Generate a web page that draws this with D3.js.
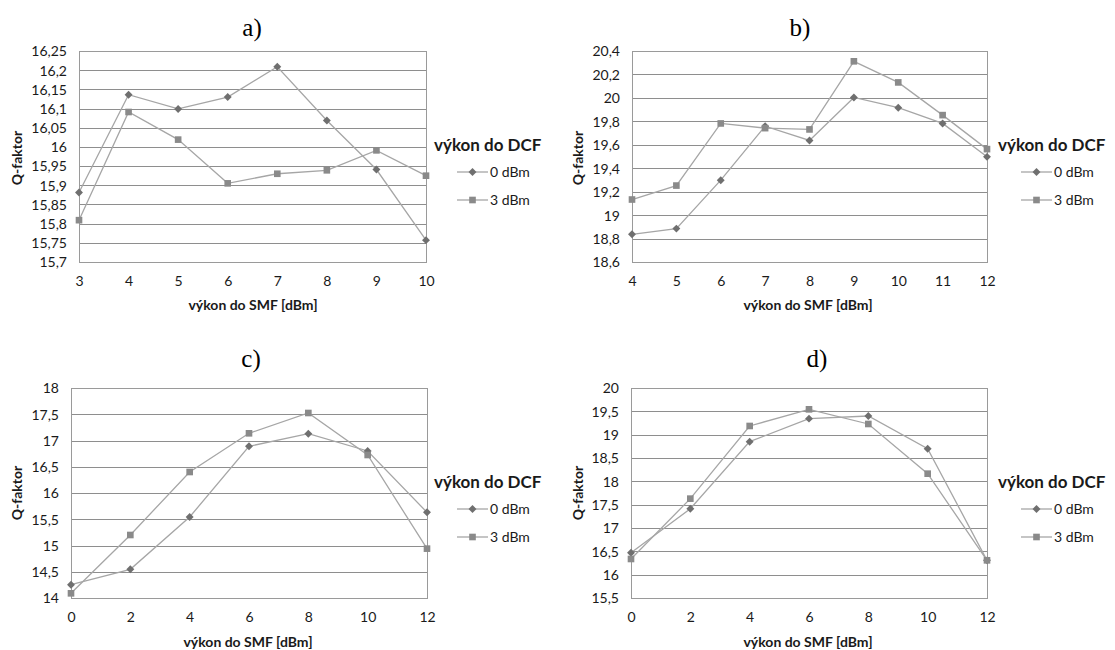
<!DOCTYPE html>
<html>
<head>
<meta charset="utf-8">
<script src="https://cdn.jsdelivr.net/npm/d3@7"></script>
<style>
  body { margin: 0; background: #fff; }
  svg { display: block; }
  .tick text { font-family: Lato, "Open Sans", sans-serif; font-size: 14px; fill: #1a1a1a; }
  .title { font-family: "Liberation Serif", "DejaVu Serif", serif; font-size: 25px; fill: #000; }
  .axtitle { font-family: Lato, "Open Sans", sans-serif; font-size: 14px; font-weight: bold; fill: #1a1a1a; }
  .legtitle { font-family: Lato, "Open Sans", sans-serif; font-size: 17px; font-weight: bold; fill: #1a1a1a; }
  .legtext { font-family: Lato, "Open Sans", sans-serif; font-size: 14px; fill: #1a1a1a; }
</style>
</head>
<body>
<div id="chart"></div>
<script>
// ----- data -----
var seriesNames = ["0 dBm", "3 dBm"];

var xA = [3, 4, 5, 6, 7, 8, 9, 10];
var a0 = [15.881, 16.136, 16.099, 16.130, 16.209, 16.069, 15.941, 15.757];
var a3 = [15.809, 16.091, 16.019, 15.905, 15.930, 15.939, 15.991, 15.925];
var yTicksA = [15.7, 15.75, 15.8, 15.85, 15.9, 15.95, 16, 16.05, 16.1, 16.15, 16.2, 16.25];

var xB = [4, 5, 6, 7, 8, 9, 10, 11, 12];
var b0 = [18.836, 18.885, 19.298, 19.759, 19.637, 20.004, 19.916, 19.782, 19.497];
var b3 = [19.133, 19.252, 19.782, 19.742, 19.731, 20.312, 20.132, 19.853, 19.563];
var yTicksB = [18.6, 18.8, 19, 19.2, 19.4, 19.6, 19.8, 20, 20.2, 20.4];

var xC = [0, 2, 4, 6, 8, 10, 12];
var c0 = [14.254, 14.546, 15.543, 16.889, 17.130, 16.800, 15.632];
var c3 = [14.089, 15.200, 16.400, 17.137, 17.524, 16.724, 14.940];
var yTicksC = [14, 14.5, 15, 15.5, 16, 16.5, 17, 17.5, 18];

var xD = [0, 2, 4, 6, 8, 10, 12];
var d0 = [16.471, 17.414, 18.850, 19.343, 19.400, 18.700, 16.307];
var d3v = [16.336, 17.629, 19.186, 19.543, 19.229, 18.164, 16.307];
var yTicksD = [15.5, 16, 16.5, 17, 17.5, 18, 18.5, 19, 19.5, 20];

var panelLabels = ["a)", "b)", "c)", "d)"];
var xLabel = "výkon do SMF [dBm]";
var yLabel = "Q-faktor";
var legendTitle = "výkon do DCF";

// ----- layout -----
var width = 1115, height = 650;
var panels = [
  { x: xA, s: [a0, a3], yt: yTicksA, l: 79, r: 426, t: 51, b: 262, tx: 252, ty: 36, lx: 434, ly: 145, qx: 17, qy: 158, xl: 253, xly: 310 },
  { x: xB, s: [b0, b3], yt: yTicksB, l: 632, r: 987, t: 51, b: 262, tx: 800, ty: 36, lx: 998, ly: 145, qx: 578, qy: 158, xl: 808, xly: 310 },
  { x: xC, s: [c0, c3], yt: yTicksC, l: 71, r: 427, t: 388, b: 598, tx: 251, ty: 367, lx: 434, ly: 482, qx: 17, qy: 493, xl: 248, xly: 647 },
  { x: xD, s: [d0, d3v], yt: yTicksD, l: 631, r: 987, t: 388, b: 598, tx: 817, ty: 367, lx: 998, ly: 482, qx: 578, qy: 493, xl: 808, xly: 647 }
];

var lineColor = "#a6a6a6";
var markerColor = ["#6f6f6f", "#8a8a8a"];
var markerShape = [d3.symbol().type(d3.symbolDiamond2).size(40), d3.symbol().type(d3.symbolSquare).size(44)];

var svg = d3.select("#chart").append("svg")
  .attr("width", width)
  .attr("height", height);

panels.forEach(function(p, i) {
  var g = svg.append("g");
  var x = d3.scaleLinear().domain(d3.extent(p.x)).range([p.l, p.r]);
  var y = d3.scaleLinear().domain(d3.extent(p.yt)).range([p.b, p.t]);

  // gridlines
  g.selectAll(".grid").data(p.yt).enter().append("line")
    .attr("x1", p.l).attr("x2", p.r)
    .attr("y1", function(d) { return Math.round(y(d)) + 0.5; })
    .attr("y2", function(d) { return Math.round(y(d)) + 0.5; })
    .attr("stroke", "#8e8e8e").attr("stroke-width", 1);
  // plot frame
  g.append("rect")
    .attr("x", p.l + 0.5).attr("y", Math.round(p.t) + 0.5)
    .attr("width", p.r - p.l).attr("height", Math.round(p.b) - Math.round(p.t))
    .attr("fill", "none").attr("stroke", "#9a9a9a");

  // axes (labels only)
  var fmt = function(d) { return d3.format("~g")(d).replace(".", ","); };
  var ay = g.append("g").attr("transform", "translate(" + (p.l - 12) + ",0)")
    .call(d3.axisLeft(y).tickValues(p.yt).tickFormat(fmt).tickSize(0).tickPadding(0));
  ay.select(".domain").remove();
  ay.selectAll("text").attr("dy", "0.35em");
  var ax = g.append("g").attr("transform", "translate(0," + (p.b + 14) + ")")
    .call(d3.axisBottom(x).tickValues(p.x).tickFormat(d3.format("d")).tickSize(0).tickPadding(0));
  ax.select(".domain").remove();

  // series
  var line = d3.line()
    .x(function(d) { return x(d[0]); })
    .y(function(d) { return y(d[1]); });
  p.s.forEach(function(vals, k) {
    var pts = p.x.map(function(v, j) { return [v, vals[j]]; });
    g.append("path").datum(pts)
      .attr("d", line)
      .attr("fill", "none").attr("stroke", lineColor).attr("stroke-width", 1.3);
    g.selectAll(".m" + k).data(pts).enter().append("path")
      .attr("transform", function(d) { return "translate(" + x(d[0]) + "," + y(d[1]) + ")"; })
      .attr("d", markerShape[k])
      .attr("fill", markerColor[k]);
  });

  // titles
  svg.append("text").attr("class", "title")
    .attr("x", p.tx).attr("y", p.ty).attr("text-anchor", "middle").text(panelLabels[i]);
  svg.append("text").attr("class", "axtitle")
    .attr("x", p.xl).attr("y", p.xly).attr("text-anchor", "middle").text(xLabel);
  svg.append("text").attr("class", "axtitle")
    .attr("transform", "translate(" + p.qx + "," + p.qy + ") rotate(-90)")
    .attr("text-anchor", "middle").attr("dy", "0.35em").text(yLabel);

  // legend
  var leg = svg.append("g").attr("transform", "translate(" + p.lx + "," + p.ly + ")");
  leg.append("text").attr("class", "legtitle").attr("dy", "0.35em").text(legendTitle);
  seriesNames.forEach(function(n, k) {
    var yy = 27 + k * 28;
    leg.append("line").attr("x1", 23).attr("x2", 54).attr("y1", yy).attr("y2", yy)
      .attr("stroke", lineColor).attr("stroke-width", 1.3);
    leg.append("path").attr("transform", "translate(38.5," + yy + ")")
      .attr("d", markerShape[k]).attr("fill", markerColor[k]);
    leg.append("text").attr("class", "legtext").attr("x", 56).attr("y", yy).attr("dy", "0.35em").text(n);
  });
});
</script>
</body>
</html>
